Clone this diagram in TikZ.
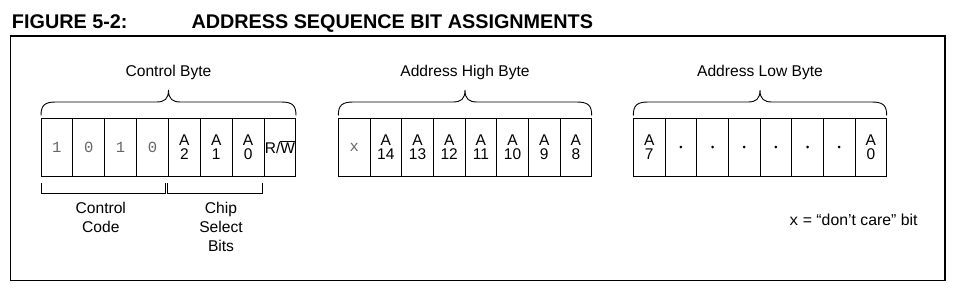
\documentclass[tikz,border=0pt]{standalone}
\usepackage{fontspec}
\setmainfont{Liberation Sans}
\setmonofont{Liberation Mono}
\newcommand\cellfont{\fontsize{15.5}{14.5}\selectfont}
\newcommand\ab[1]{\cellfont A\\\cellfont #1}
\newcommand\dg[1]{{\ttfamily\fontsize{15.5}{15}\selectfont\color{black!60}#1}}
\newcommand\bytebrace[2]{%
  \pgfmathsetmacro\bbc{(#1+#2)/2}%
  \draw[line width=0.9pt] (#1,115.5) .. controls (#1,105) and ({#1+4},102) .. ({#1+15},102)
    -- ({\bbc-12},102) .. controls ({\bbc-4},102) and (\bbc,99) .. (\bbc,90)
    .. controls (\bbc,99) and ({\bbc+4},102) .. ({\bbc+12},102)
    -- ({#2-15},102) .. controls ({#2-4},102) and (#2,105) .. (#2,115.5);}
\begin{document}
\begin{tikzpicture}[x=1pt,y=-1pt,
  every node/.style={inner sep=0pt, outer sep=0pt},
  cellbox/.style={draw, line width=0.9pt, minimum width=31.75pt, minimum height=58pt,
     anchor=north west, align=center, font=\cellfont},
  lbl/.style={anchor=base, font=\fontsize{15.6}{18}\selectfont},
  ttl/.style={anchor=base west, font=\bfseries\fontsize{19.8}{20}\selectfont}]
\useasboundingbox (0,0) rectangle (960,294);
% title
\node[ttl] (fig) at (12,29) {FIGURE 5-2:};
\node[ttl] (title) at (191.5,29) {ADDRESS SEQUENCE BIT ASSIGNMENTS};
% frame
\draw[line width=1.2pt] (10.7,36) -- (10.7,280.5) -- (945,280.5) -- (945,36);
\draw[line width=2pt] (9.7,36) -- (946,36);
% control byte
\foreach \i/\t in {0/{\dg{1}},1/{\dg{0}},2/{\dg{1}},3/{\dg{0}},4/{\ab{2}},5/{\ab{1}},6/{\ab{0}},7/{{\cellfont R/$\overline{\hbox{W}}$}}}
  \node[cellbox] (c\i) at ({41+31.875*\i},118) {\t};
% address high byte
\foreach \i/\t in {0/{\dg{x}},1/{\ab{14}},2/{\ab{13}},3/{\ab{12}},4/{\ab{11}},5/{\ab{10}},6/{\ab{9}},7/{\ab{8}}}
  \node[cellbox] (h\i) at ({338.3+31.675*\i},118) {\t};
% address low byte
\foreach \i/\t in {0/{\ab{7}},1/{},2/{},3/{},4/{},5/{},6/{},7/{\ab{0}}}
  \node[cellbox] (l\i) at ({633.3+31.675*\i},118) {\t};
\foreach \i in {1,...,6}
  \fill (l\i.center) circle (1.5pt);
% braces
\bytebrace{41}{296}
\bytebrace{338.3}{591.7}
\bytebrace{633.3}{886.7}
\node[lbl] (cb) at (168.5,77) {Control Byte};
\node[lbl] (hb) at (465,77) {Address High Byte};
\node[lbl] (lb) at (760,77) {Address Low Byte};
% bottom brackets
\draw[line width=0.9pt] (41,183) -- (41,193) -- (165,193) -- (165,183);
\draw[line width=0.9pt] (167.7,183) -- (167.7,193) -- (262.3,193) -- (262.3,183);
\node[lbl] (cc1) at (100.8,213.3) {Control};
\node[lbl] (cc2) at (100.8,232.3) {Code};
\node[lbl] (cs1) at (221,213.3) {Chip};
\node[lbl] (cs2) at (221,232.3) {Select};
\node[lbl] (cs3) at (221,251.7) {Bits};
% legend
\node[anchor=base west, font=\fontsize{15.8}{18}\selectfont] (leg) at (789,225)
  {{\ttfamily x} = “don’t care” bit};
\end{tikzpicture}
\end{document}
